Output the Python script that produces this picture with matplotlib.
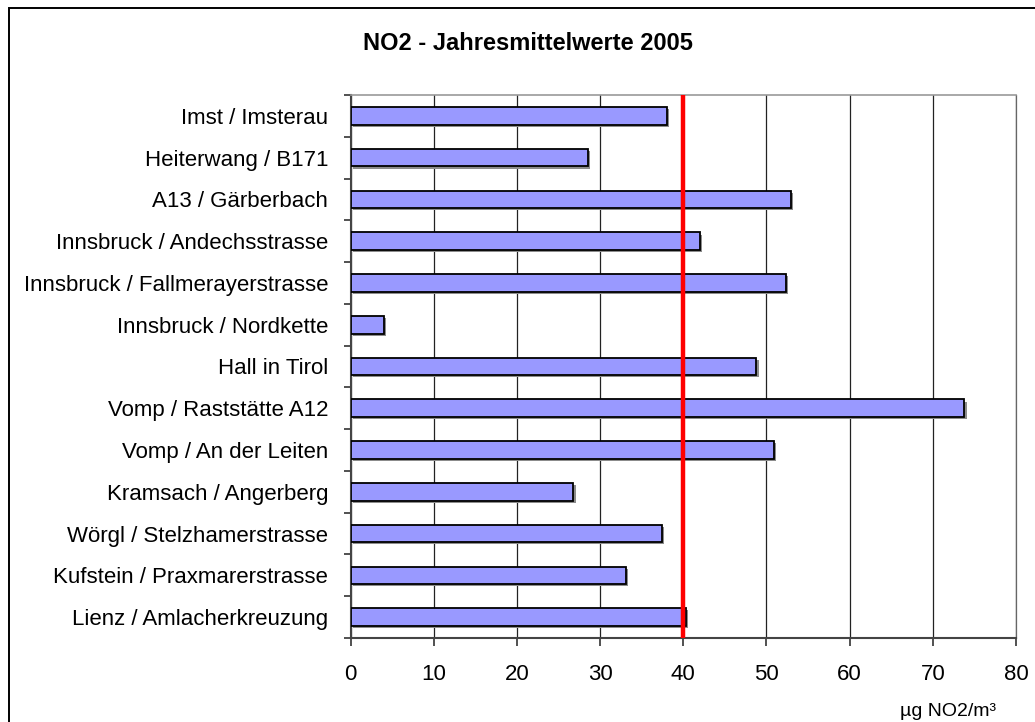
import matplotlib
matplotlib.use("Agg")
import matplotlib.pyplot as plt
from matplotlib.patches import Rectangle

plt.rcParams['font.family'] = ['Liberation Sans', 'DejaVu Sans']

stations = ["Imst / Imsterau", "Heiterwang / B171", "A13 / Gärberbach",
            "Innsbruck / Andechsstrasse", "Innsbruck / Fallmerayerstrasse",
            "Innsbruck / Nordkette", "Hall in Tirol", "Vomp / Raststätte A12",
            "Vomp / An der Leiten", "Kramsach / Angerberg",
            "Wörgl / Stelzhamerstrasse", "Kufstein / Praxmarerstrasse",
            "Lienz / Amlacherkreuzung"]
values = [38.0, 28.5, 53.0, 42.0, 52.3, 4.0, 48.8, 73.8, 50.9, 26.8, 37.4, 33.1, 40.3]
limit_value = 40
xticks = [0, 10, 20, 30, 40, 50, 60, 70, 80]
title = "NO2 - Jahresmittelwerte 2005"
unit_label = "µg NO2/m³"

W, H = 1035, 722
fig = plt.figure(figsize=(W / 100, H / 100), dpi=100)
ax = fig.add_axes([350.5 / W, 1 - 638 / H, (1016 - 350.5) / W, (638 - 95) / H])

n = len(stations)
ypos = list(range(n))[::-1]
bh = 0.42
# shadows
ax.barh([y - 0.05 for y in ypos], values, height=bh, left=0.25, color="#8c8c8c",
        edgecolor="none", zorder=2)
ax.barh(ypos, values, height=bh, color="#9999FF", edgecolor="black",
        linewidth=1.3, zorder=3)

ax.axvline(limit_value, color="#FF0000", linewidth=3.2, zorder=4)

ax.set_xlim(0, 80)
ax.set_ylim(-0.5, n - 0.5)
ax.set_xticks(xticks)
ax.set_xticklabels([str(t) for t in xticks], fontsize=16)
ax.set_yticks(ypos)
ax.set_yticklabels(stations, fontsize=16)
ax.set_yticks([i - 0.5 for i in range(n + 1)], minor=True)
ax.tick_params(axis="y", which="major", length=0, pad=16)
ax.tick_params(axis="y", which="minor", length=5, width=1.2, color="#333333", direction="out")
ax.tick_params(axis="x", which="major", length=6, width=1.2, color="#333333",
               direction="out", pad=13)
ax.xaxis.grid(True, color="#222222", linewidth=0.9, zorder=0)
ax.set_axisbelow(True)
for s in ["left", "bottom"]:
    ax.spines[s].set_color("#444444")
    ax.spines[s].set_linewidth(1.5)
ax.spines["top"].set_color("#999999")
ax.spines["top"].set_linewidth(1.2)
ax.spines["right"].set_color("#666666")
ax.spines["right"].set_linewidth(0.9)

fig.text(528 / W, 1 - 44 / H, title, ha="center", va="center",
         fontsize=17, fontweight="bold")
fig.text(996 / W, 1 - 711 / H, unit_label, ha="right", va="center", fontsize=14)

fig.patches.append(Rectangle((8.5 / W, -0.05), 1.2, 1 - 7.5 / H + 0.05,
                             transform=fig.transFigure, fill=False,
                             edgecolor="black", linewidth=1.4))

fig.savefig("out.png", dpi=100, facecolor="white")
